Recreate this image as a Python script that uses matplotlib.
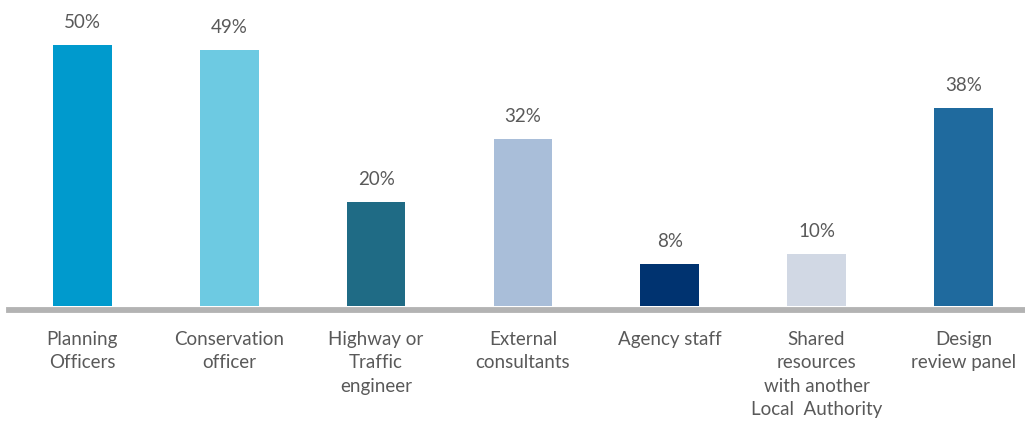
import matplotlib
matplotlib.use("Agg")
import matplotlib.pyplot as plt

categories = [
    "Planning\nOfficers",
    "Conservation\nofficer",
    "Highway or\nTraffic\nengineer",
    "External\nconsultants",
    "Agency staff",
    "Shared\nresources\nwith another\nLocal  Authority",
    "Design\nreview panel",
]
values = [50, 49, 20, 32, 8, 10, 38]
colors = ["#009acd", "#6dcae2", "#1f6b85", "#a9bed9", "#003370", "#d1d8e4", "#1f6a9e"]

TEXT = "#595959"
plt.rcParams["font.family"] = ["Lato", "DejaVu Sans"]

fig = plt.figure(figsize=(10.25, 4.23), dpi=100)
ax = fig.add_axes([9 / 1025, 117 / 423, 1016 / 1025, 306 / 423])

x = range(len(values))
bars = ax.bar(x, values, width=0.4, color=colors, zorder=2)
for b, v in zip(bars, values):
    ax.annotate(f"{v}%", (b.get_x() + b.get_width() / 2, v),
                xytext=(0, 10), textcoords="offset points",
                ha="center", va="bottom", fontsize=13.5, color=TEXT)

ax.set_xlim(-0.5, 6.42)
ax.set_ylim(0, 58.6)

# thick grey baseline sitting just under the bars
ax.axhline(-0.85, color="#b3b3b3", lw=4.2, clip_on=False, zorder=1)

ax.set_xticks(list(x))
ax.set_xticklabels(categories, fontsize=13.5, color=TEXT, linespacing=1.45)
ax.tick_params(axis="x", length=0, pad=18)
ax.set_yticks([])
for s in ax.spines.values():
    s.set_visible(False)

fig.savefig("out.png", dpi=100, facecolor="white")
